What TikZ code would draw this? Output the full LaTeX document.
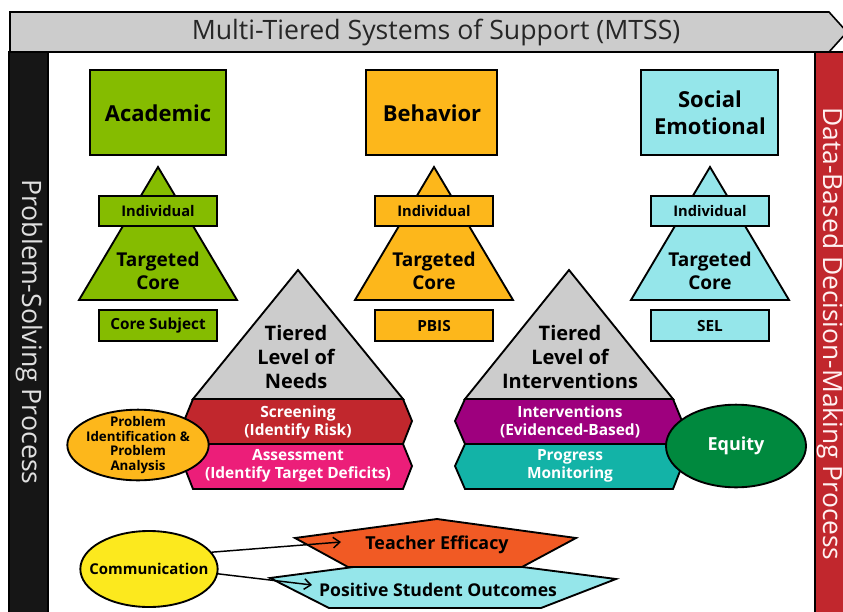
\documentclass[tikz,border=0pt]{standalone}
\usepackage{fontspec}
\setmainfont{Open Sans}
\usetikzlibrary{shapes.geometric,arrows.meta}
\definecolor{acad}{RGB}{133,188,0}
\definecolor{behv}{RGB}{253,183,27}
\definecolor{selc}{RGB}{149,230,234}
\definecolor{grayp}{RGB}{204,204,204}
\definecolor{scr}{RGB}{193,39,45}
\definecolor{asmt}{RGB}{236,30,121}
\definecolor{intv}{RGB}{158,0,126}
\definecolor{prog}{RGB}{19,179,167}
\definecolor{equ}{RGB}{0,137,62}
\definecolor{commy}{RGB}{252,233,30}
\definecolor{teach}{RGB}{241,90,36}
\definecolor{barblack}{RGB}{22,22,22}
\definecolor{barred}{RGB}{193,39,45}
\tikzset{
  shp/.style={draw=black, line width=1.4pt, line join=miter},
  lbl/.style={align=center, inner sep=0pt, font=\bfseries},
  wlbl/.style={lbl, text=white},
  ell/.style={ellipse, draw=black, line width=1.4pt, inner sep=0pt},
  arr/.style={line width=1.1pt, -{Straight Barb[length=5pt,width=8pt,line width=1.1pt]}},
}
\begin{document}
\begin{tikzpicture}[x=0.75pt,y=-0.75pt]
\useasboundingbox (0,0) rectangle (843,611);
\fill[white] (0,0) rectangle (843,611);
% side bars
\filldraw[fill=barblack, draw=black, line width=1pt] (9,52) rectangle (48,615);
\filldraw[fill=barred, draw=black, line width=1pt] (815,52) rectangle (850,615);
\node[rotate=-90, text=white!88!black, font=\fontsize{20}{22}\selectfont, inner sep=0pt] (psp) at (29,332) {Problem-Solving Process};
\node[rotate=-90, text=white!95!red, font=\fontsize{19.8}{22}\selectfont, inner sep=0pt] (dbp) at (830,334) {Data-Based Decision-Making Process};
% header
\filldraw[fill=grayp, draw=black, line width=1.2pt] (10,12) -- (829,12) -- (847,32) -- (829,52) -- (10,52) -- cycle;
\node[text=black!85, font=\fontsize{20}{22}\selectfont, inner sep=0pt] (hdr) at (436,32) {Multi-Tiered Systems of Support (MTSS)};

% top boxes
\filldraw[shp, fill=acad] (90,70) rectangle (226,155);
\node[lbl, font=\bfseries\fontsize{16.5}{20}\selectfont] (acad) at (158,113) {Academic};
\filldraw[shp, fill=behv] (366,70) rectangle (497,155);
\node[lbl, font=\bfseries\fontsize{16.5}{20}\selectfont] (behv) at (432,113) {Behavior};
\filldraw[shp, fill=selc] (641,70) rectangle (778,155);
\node[lbl, font=\bfseries\fontsize{16.5}{20.5}\selectfont] (socm) at (710,113) {Social\\Emotional};

% small pyramids
\foreach \cx/\col/\nm/\bt in {158/acad/a/Core Subject, 434/behv/b/PBIS, 710/selc/c/SEL}{
  \filldraw[shp, fill=\col] (\cx,167) -- (\cx+79,300) -- (\cx-79,300) -- cycle;
  \filldraw[shp, fill=\col] (\cx-59,196) rectangle (\cx+59,226);
  \node[lbl, font=\bfseries\fontsize{11}{13}\selectfont] (ind\nm) at (\cx,211) {Individual};
  \node[lbl, font=\bfseries\fontsize{14.3}{17.5}\selectfont] (tc\nm) at (\cx,271) {Targeted\\Core};
  \filldraw[shp, fill=\col] (\cx-59,310) rectangle (\cx+59,341);
  \node[lbl, font=\bfseries\fontsize{11.5}{13}\selectfont] (bot\nm) at (\cx,326) {\bt};
}

% big left pyramid
\filldraw[shp, fill=grayp] (298,270) -- (403,399) -- (193,399) -- cycle;
\node[lbl, font=\bfseries\fontsize{15}{18}\selectfont] (tln) at (296,357) {Tiered\\Level of\\Needs};
\filldraw[shp, fill=scr] (193,399) -- (403,399) -- (412,421) -- (403,444) -- (193,444) -- (184,421) -- cycle;
\node[wlbl, font=\bfseries\fontsize{11.6}{13.5}\selectfont] (scrn) at (298,422) {Screening\\(Identify Risk)};
\filldraw[shp, fill=asmt] (193,444) -- (403,444) -- (412,466) -- (403,489) -- (193,489) -- (184,466) -- cycle;
\node[wlbl, font=\bfseries\fontsize{11.6}{13.5}\selectfont] (asm) at (298,466) {Assessment\\(Identify Target Deficits)};

% big right pyramid
\filldraw[shp, fill=grayp] (569,270) -- (673,399) -- (465,399) -- cycle;
\node[lbl, font=\bfseries\fontsize{15}{18}\selectfont] (tli) at (570,357) {Tiered\\Level of\\Interventions};
\filldraw[shp, fill=intv] (465,399) -- (673,399) -- (682,421) -- (673,444) -- (465,444) -- (455,421) -- cycle;
\node[wlbl, font=\bfseries\fontsize{11.6}{13.5}\selectfont] (intvn) at (570,422) {Interventions\\(Evidenced-Based)};
\filldraw[shp, fill=prog] (465,444) -- (673,444) -- (682,466) -- (673,489) -- (465,489) -- (455,466) -- cycle;
\node[wlbl, font=\bfseries\fontsize{11.6}{13.5}\selectfont] (progm) at (570,466) {Progress\\Monitoring};

% ellipses
\node[ell, fill=behv, minimum width=106pt, minimum height=53pt] (pia) at (138,445) {};
\node[lbl, font=\bfseries\fontsize{10}{11.2}\selectfont] (pial) at (pia.center) {Problem\\Identification \&\\Problem\\Analysis};
\node[ell, fill=equ, minimum width=105pt, minimum height=62pt] (eq) at (736,446) {};
\node[wlbl, font=\bfseries\fontsize{13.5}{16}\selectfont] (eql) at (eq.center) {Equity};

% bottom
\filldraw[shp, fill=selc] (270,578) -- (437,556) -- (616,579) -- (541,608) -- (329,608) -- cycle;
\node[lbl, font=\bfseries\fontsize{13.2}{15}\selectfont] (pso) at (438,590) {Positive Student Outcomes};
\filldraw[shp, fill=teach] (295,538) -- (437,519) -- (576,538) -- (522,567) -- (348,567) -- cycle;
\node[lbl, font=\bfseries\fontsize{13.4}{15}\selectfont] (tef) at (437,545) {Teacher Efficacy};
\node[ell, fill=commy, minimum width=103pt, minimum height=57pt] (comm) at (149,569) {};
\node[lbl, font=\bfseries\fontsize{11.2}{13}\selectfont] (comml) at (comm.center) {Communication};
\coordinate (teA) at (341,542);
\coordinate (psA) at (312,585);
\draw[arr] (comm.15) -- (teA);
\draw[arr] (comm.-4) -- (psA);
\end{tikzpicture}
\end{document}
